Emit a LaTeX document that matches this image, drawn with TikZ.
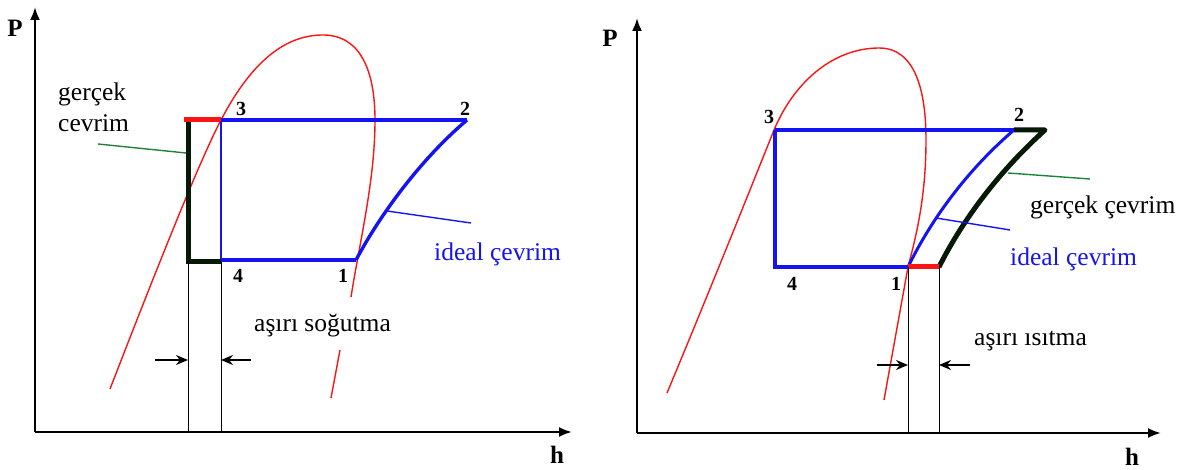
\documentclass[tikz,border=0pt]{standalone}
\usepackage{fontspec}
\setmainfont{Liberation Serif}
\usetikzlibrary{arrows.meta}
\definecolor{cblue}{RGB}{20,20,240}
\definecolor{cred}{RGB}{250,20,20}
\definecolor{cgreen}{RGB}{30,130,60}
\definecolor{cdark}{RGB}{5,25,5}
\tikzset{
  phdiag/.style={x=1pt,y=-1pt},
  dome/.style={cred,line width=1.4pt},
  ideal/.style={cblue,line width=3.4pt},
  real/.style={cdark,line width=5pt},
  superheat/.style={cred,line width=5pt},
  axis/.style={line width=2.2pt,-{Latex[length=13pt,width=10pt]}},
  guide/.style={black,line width=0.9pt},
  gaparrow/.style={line width=1.4pt,-{Stealth[length=12pt,width=10pt]}},
  leader/.style={line width=1.4pt},
  lbl/.style={font=\fontsize{25.5}{30}\selectfont,inner sep=0pt},
  num/.style={font=\fontsize{20}{22}\selectfont\bfseries,inner sep=0pt},
  axlbl/.style={font=\fontsize{25}{27}\selectfont\bfseries,inner sep=0pt}
}
\begin{document}
\begin{tikzpicture}[phdiag]
  \useasboundingbox (0,0) rectangle (1189,470);
  % ---------- left: subcooling ----------
  \coordinate (lO) at (35,432);
  \coordinate (lY) at (35,7);
  \coordinate (lX) at (572,432);
  \draw[axis] (lO) -- (lY);
  \draw[axis] (lO) -- (lX);
  \node[axlbl] (lP) at (15,28) {P};
  \node[axlbl] (lH) at (557,455) {h};
  % saturation dome
  \draw[dome] (110,389) .. controls (160,260) and (200,160) .. (221,120)
    .. controls (255,55) and (290,35) .. (323,35)
    .. controls (360,35) and (375,70) .. (375,120)
    .. controls (375,180) and (360,240) .. (351,297);
  \draw[dome] (340,350) -- (331,398);
  % cycle points
  \coordinate (l1) at (356,260);
  \coordinate (l2) at (467,120);
  \coordinate (l3) at (221,120);
  \coordinate (l4) at (221,260);
  \coordinate (l3r) at (184,120);
  \coordinate (l3b) at (188,122);
  \coordinate (l4r) at (188,262);
  \coordinate (l4b) at (221,262);
  % ideal cycle
  \draw[ideal] (l3) -- (l2);
  \draw[ideal] (l1) .. controls (380,215) and (420,160) .. (l2);
  \draw[ideal] (l4) -- (l1);
  \draw[ideal,line width=2.6pt] (l3) -- (l4);
  % real cycle
  \draw[superheat] (l3r) -- (l3);
  \draw[real,line join=miter] (l3b) -- (l4r) -- (l4b);
  % subcooling guides
  \coordinate (lg1) at (188,432);
  \coordinate (lg2) at (221,432);
  \draw[guide] (l4r) -- (lg1);
  \draw[guide] (l4b) -- (lg2);
  \coordinate (la1) at (155,360);
  \coordinate (la1e) at (188,360);
  \coordinate (la2) at (251,360);
  \coordinate (la2e) at (221,360);
  \draw[gaparrow] (la1) -- (la1e);
  \draw[gaparrow] (la2) -- (la2e);
  % labels
  \node[num] (ln3) at (241,109) {3};
  \node[num] (ln2) at (465,109) {2};
  \node[num] (ln4) at (238,276) {4};
  \node[num] (ln1) at (343,276) {1};
  \node[lbl,anchor=base west] (lreal) at (58,101) {gerçek};
  \node[lbl,anchor=base west] (lreal2) at (58,132) {cevrim};
  \node[lbl,anchor=base west,text=cblue] (lideal) at (434,261) {ideal çevrim};
  \node[lbl,anchor=base west] (lsub) at (254,332) {aşırı soğutma};
  \coordinate (lrl) at (98,144);
  \coordinate (lrle) at (186,153);
  \draw[leader,cgreen] (lrl) -- (lrle);
  \coordinate (lil) at (387,211);
  \coordinate (lile) at (471,223);
  \draw[leader,cblue] (lil) -- (lile);
  % ---------- right: superheating ----------
  \coordinate (rO) at (637,433);
  \coordinate (rY) at (637,18);
  \coordinate (rX) at (1161,433);
  \draw[axis] (rO) -- (rY);
  \draw[axis] (rO) -- (rX);
  \node[axlbl] (rP) at (610,38) {P};
  \node[axlbl] (rH) at (1132,457) {h};
  % saturation dome
  \draw[dome] (667,393) .. controls (710,290) and (752,185) .. (774,130)
    .. controls (795,80) and (835,48) .. (879,48)
    .. controls (915,48) and (926,90) .. (926,140)
    .. controls (926,200) and (915,240) .. (908,267)
    -- (884,400);
  % cycle points
  \coordinate (r1) at (908,267);
  \coordinate (r2) at (1014,130);
  \coordinate (r3) at (775,130);
  \coordinate (r4) at (775,267);
  \coordinate (r2b) at (1045,130);
  \coordinate (r1b) at (939,267);
  % ideal cycle
  \draw[ideal] (r3) -- (r2);
  \draw[ideal,line width=3pt] (r1) .. controls (930,222) and (965,172) .. (r2);
  \draw[ideal,line join=miter] (r3) -- (r4) -- (r1);
  % real cycle
  \draw[real,line join=round] (r2) -- (r2b)
    .. controls (995,175) and (960,225) .. (r1b);
  \draw[superheat] (r1) -- (r1b);
  % superheat guides
  \coordinate (rg1) at (908,433);
  \coordinate (rg2) at (939,433);
  \draw[guide] (r1) -- (rg1);
  \draw[guide] (r1b) -- (rg2);
  \coordinate (ra1) at (877,365);
  \coordinate (ra1e) at (908,365);
  \coordinate (ra2) at (970,365);
  \coordinate (ra2e) at (939,365);
  \draw[gaparrow] (ra1) -- (ra1e);
  \draw[gaparrow] (ra2) -- (ra2e);
  % labels
  \node[num] (rn3) at (769,117) {3};
  \node[num] (rn2) at (1019,115) {2};
  \node[num] (rn4) at (792,284) {4};
  \node[num] (rn1) at (896,284) {1};
  \node[lbl,anchor=base west] (rreal) at (1030,214) {gerçek çevrim};
  \node[lbl,anchor=base west,text=cblue] (rideal) at (1010,266) {ideal çevrim};
  \node[lbl,anchor=base west] (rsup) at (974,345) {aşırı ısıtma};
  \coordinate (rrl) at (1008,173);
  \coordinate (rrle) at (1090,179);
  \draw[leader,cgreen] (rrl) -- (rrle);
  \coordinate (ril) at (936,218);
  \coordinate (rile) at (1010,230);
  \draw[leader,cblue] (ril) -- (rile);
\end{tikzpicture}
\end{document}
